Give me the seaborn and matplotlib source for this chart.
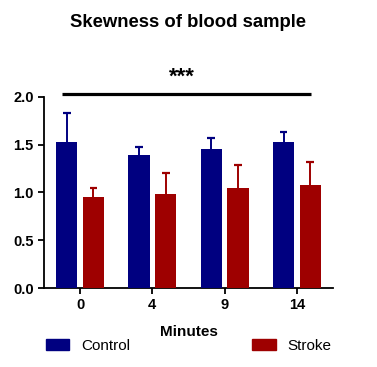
import numpy as np
import pandas as pd
import seaborn as sns
import matplotlib.pyplot as plt
from matplotlib.patches import Patch

# chart data
minutes = ["0", "4", "9", "14"]
groups = ["Control", "Stroke"]
control_mean = [1.53, 1.39, 1.45, 1.53]
control_err = [0.30, 0.08, 0.12, 0.10]
stroke_mean = [0.95, 0.98, 1.05, 1.08]
stroke_err = [0.10, 0.22, 0.24, 0.24]
colors = ["#000080", "#9E0000"]

sns.set_style("ticks")
plt.rcParams['font.family'] = ['Liberation Sans', 'DejaVu Sans']
plt.rcParams['text.color'] = "black"
plt.rcParams['axes.labelcolor'] = "black"

df = pd.DataFrame({
    "Minutes": minutes * 2,
    "group": [groups[0]] * 4 + [groups[1]] * 4,
    "value": control_mean + stroke_mean,
})

fig = plt.figure(figsize=(3.77, 3.67), dpi=100)
ax = fig.add_axes([44 / 377, 1 - 288 / 367, 289 / 377, (288 - 96.7) / 367])

sns.barplot(data=df, x="Minutes", y="value", hue="group", order=minutes,
            hue_order=groups, palette=colors, width=0.74, gap=0.21,
            saturation=1, errorbar=None, ax=ax, legend=False, linewidth=0,
            zorder=3)

# upper-only error bars, positioned on the drawn bars
errs = [control_err, stroke_err]
bar_sets = list(ax.containers)
for k, cont in enumerate(bar_sets):
    xs = np.array([p.get_x() + p.get_width() / 2 for p in cont.patches])
    hs = np.array([p.get_height() for p in cont.patches])
    tops = hs + np.array(errs[k])
    ax.vlines(xs, hs, tops, color=colors[k], lw=1.4, zorder=2)
    ax.hlines(tops, xs - 0.055, xs + 0.055, color=colors[k], lw=1.6, zorder=2)

# significance bar
ax.plot([-0.25, 3.2], [2.024, 2.024], color="black", lw=2.3, clip_on=False,
        solid_capstyle="butt")
fig.text(0.483, 0.79, "***", ha="center", va="center", fontsize=16,
         fontweight="bold")

ax.set_ylim(0, 2.0)
ax.set_xlim(-0.5, 3.5)
ax.set_yticks([0.0, 0.5, 1.0, 1.5, 2.0])
ax.set_yticklabels(["0.0", "0.5", "1.0", "1.5", "2.0"])
ax.set_ylabel("")
ax.set_xlabel("")
ax.tick_params(labelsize=10.5, width=1.3, length=4, colors="black")
for lab in ax.get_xticklabels() + ax.get_yticklabels():
    lab.set_fontweight("bold")
for side in ["left", "bottom"]:
    ax.spines[side].set_linewidth(1.3)
    ax.spines[side].set_color("black")
sns.despine(ax=ax)

fig.text(0.5, 0.94, "Skewness of blood sample", ha="center", va="center",
         fontsize=13.3, fontweight="bold")
fig.text(0.5, 0.095, "Minutes", ha="center", va="center", fontsize=11,
         fontweight="bold")

handles = [Patch(color=c) for c in colors]
fig.legend(handles, groups, loc="center", bbox_to_anchor=(0.5, 0.058),
           ncol=2, frameon=False, fontsize=11, handlelength=1.55,
           handleheight=0.8, handletextpad=0.75, columnspacing=8.0)

fig.savefig("out.png", dpi=100)
